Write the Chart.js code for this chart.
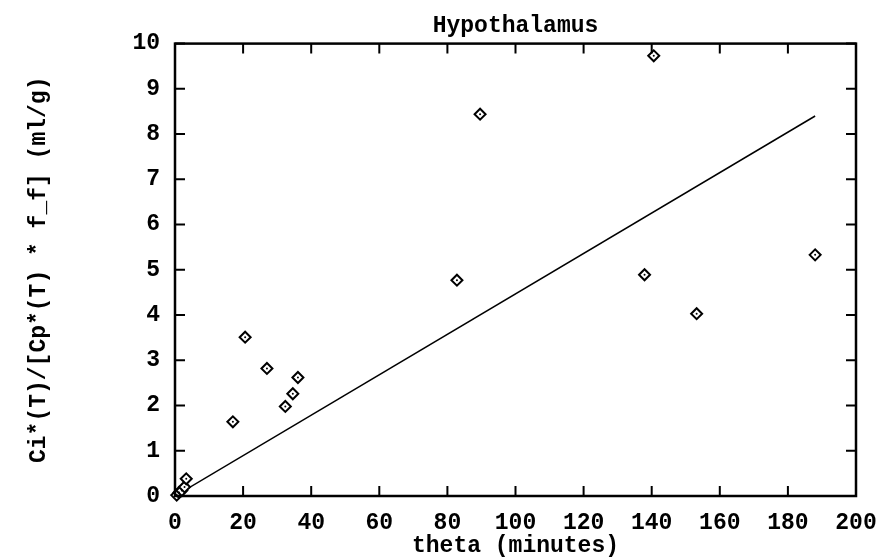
<!DOCTYPE html>
<html>
<head>
<meta charset="utf-8">
<script src="https://cdn.jsdelivr.net/npm/chart.js@4.4.0/dist/chart.umd.min.js"></script>
<style>
  html, body { margin: 0; padding: 0; background: #fff; }
  #wrap { width: 883px; height: 558px; }
</style>
</head>
<body>
<div id="wrap"><canvas id="chart"></canvas></div>
<script>
// Hypothalamus: uptake ratio against theta
const thetaMin = [0.5, 1.2, 2.0, 2.8, 3.3, 17, 20.6, 27, 32.4, 34.6, 36.1, 82.8, 89.6, 137.9, 140.6, 153.2, 188];
const ratio = [0.02, 0.08, 0.12, 0.2, 0.38, 1.64, 3.51, 2.82, 1.98, 2.26, 2.62, 4.77, 8.44, 4.89, 9.73, 4.03, 5.33];

// fitted line end points
const fitX = [0, 188];
const fitY = [0, 8.4];

const xTicks = [0, 20, 40, 60, 80, 100, 120, 140, 160, 180, 200];
const yTicks = [0, 1, 2, 3, 4, 5, 6, 7, 8, 9, 10];

const FONT = 'Liberation Mono';

const points = thetaMin.map((t, i) => ({ x: t, y: ratio[i] }));
const fit = fitX.map((t, i) => ({ x: t, y: fitY[i] }));

// box round the plot with tick marks pointing inward on all four sides
const framePlugin = {
    id: 'frame',
    afterDatasetsDraw(chart) {
        const { ctx, chartArea: a, scales: { x, y } } = chart;
        ctx.save();
        ctx.strokeStyle = '#000';
        ctx.lineWidth = 2.5;
        ctx.strokeRect(a.left, a.top, a.right - a.left, a.bottom - a.top);
        ctx.lineWidth = 2;
        ctx.beginPath();
        xTicks.forEach(v => {
            const px = x.getPixelForValue(v);
            ctx.moveTo(px, a.bottom); ctx.lineTo(px, a.bottom - 10);
            ctx.moveTo(px, a.top); ctx.lineTo(px, a.top + 10);
        });
        yTicks.forEach(v => {
            const py = y.getPixelForValue(v);
            ctx.moveTo(a.left, py); ctx.lineTo(a.left + 10, py);
            ctx.moveTo(a.right, py); ctx.lineTo(a.right - 10, py);
        });
        ctx.stroke();
        ctx.restore();
    }
};

new Chart(document.getElementById('chart'), {
    type: 'scatter',
    data: {
        datasets: [
            {
                data: points,
                pointStyle: 'circle',
                pointRadius: 1,
                backgroundColor: '#000',
                borderWidth: 0,
                clip: false,
                order: 0
            },
            {
                data: points,
                pointStyle: 'rectRot',
                pointRadius: 5.5,
                backgroundColor: '#fff',
                borderColor: '#000',
                borderWidth: 2,
                clip: false,
                order: 1
            },
            {
                type: 'line',
                data: fit,
                borderColor: '#000',
                borderWidth: 1.5,
                pointRadius: 0,
                fill: false,
                order: 2
            }
        ]
    },
    options: {
        responsive: true,
        maintainAspectRatio: false,
        animation: false,
        layout: { padding: { left: 0, right: 27, top: 0, bottom: 0 } },
        plugins: {
            legend: { display: false },
            tooltip: { enabled: false },
            title: {
                display: true,
                text: 'Hypothalamus',
                fullSize: false,
                color: '#000',
                font: { family: FONT, size: 23, weight: 'bold', lineHeight: 1.2 },
                padding: { top: 12, bottom: 4 }
            }
        },
        scales: {
            x: {
                type: 'linear',
                min: 0,
                max: 200,
                afterBuildTicks: s => { s.ticks = xTicks.map(v => ({ value: v })); },
                afterFit: s => { s.height = 62; s.paddingLeft = 0; s.paddingRight = 0; },
                grid: { display: false, drawTicks: false },
                border: { display: false },
                ticks: {
                    color: '#000',
                    padding: 16,
                    maxRotation: 0,
                    font: { family: FONT, size: 23, weight: 'bold', lineHeight: 1 }
                },
                title: {
                    display: true,
                    text: 'theta (minutes)',
                    color: '#000',
                    padding: { top: 0, bottom: 0 },
                    font: { family: FONT, size: 23, weight: 'bold', lineHeight: 1 }
                }
            },
            y: {
                type: 'linear',
                min: 0,
                max: 10,
                afterBuildTicks: s => { s.ticks = yTicks.map(v => ({ value: v })); },
                afterFit: s => { s.width = 175; },
                grid: { display: false, drawTicks: false },
                border: { display: false },
                ticks: {
                    color: '#000',
                    padding: 15,
                    font: { family: FONT, size: 23, weight: 'bold', lineHeight: 1 }
                },
                title: {
                    display: true,
                    text: 'Ci*(T)/[Cp*(T) * f_f] (ml/g)',
                    color: '#000',
                    padding: { top: 28, bottom: 0 },
                    font: { family: FONT, size: 23, weight: 'bold', lineHeight: 1 }
                }
            }
        }
    },
    plugins: [framePlugin]
});
</script>
</body>
</html>
